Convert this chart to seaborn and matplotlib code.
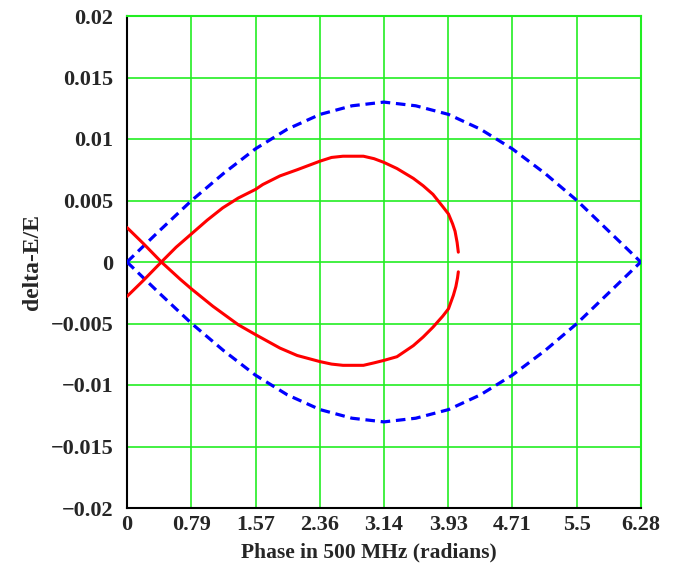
import numpy as np
import pandas as pd
import matplotlib
matplotlib.use("Agg")
import matplotlib.pyplot as plt
import seaborn as sns

# Separatrix (blue dashed)
sep_phase = [0, 0.39, 0.79, 1.18, 1.57, 1.96, 2.36, 2.75, 3.14, 3.53, 3.93, 4.32, 4.71, 5.11, 5.50, 5.89, 6.28]
sep_upper = [0, 0.0025, 0.0050, 0.0072, 0.0092, 0.0108, 0.0120, 0.0127, 0.0130, 0.0127, 0.0120, 0.0108, 0.0092, 0.0072, 0.0050, 0.0025, 0]
sep_lower = [-v for v in sep_upper]

# Trajectory (red), two branches
traj_up_phase = [0, 0.2, 0.42, 0.6, 0.79, 0.98, 1.17, 1.36, 1.57, 1.66, 1.87, 2.08, 2.36, 2.5, 2.64, 2.77, 2.89,
                 3.02, 3.14, 3.30, 3.50, 3.62, 3.74, 3.86, 3.93, 3.98, 4.01, 4.035, 4.05]
traj_up_de = [-0.0028, -0.0015, 0.0, 0.0012, 0.0023, 0.0034, 0.0044, 0.0052, 0.0059, 0.0063, 0.0070, 0.0075, 0.0082,
              0.0085, 0.0086, 0.0086, 0.0086, 0.0084, 0.0081, 0.0076, 0.0068, 0.0062, 0.0055, 0.0045, 0.0039, 0.0031,
              0.0025, 0.0016, 0.0008]
traj_lo_phase = [0, 0.2, 0.42, 0.65, 0.79, 1.05, 1.36, 1.57, 1.87, 2.08, 2.36, 2.5, 2.64, 2.77, 2.89,
                 3.02, 3.14, 3.30, 3.50, 3.62, 3.74, 3.86, 3.93, 3.99, 4.02, 4.04, 4.05]
traj_lo_de = [0.0028, 0.0015, 0.0, -0.0014, -0.0022, -0.0036, -0.0051, -0.0059, -0.0070, -0.0076, -0.0081,
              -0.0083, -0.0084, -0.0084, -0.0084, -0.0082, -0.0080, -0.0077, -0.0068, -0.0061, -0.0053, -0.0044,
              -0.0038, -0.0027, -0.0020, -0.0013, -0.0008]

xtick_vals = [0, 0.785, 1.571, 2.356, 3.142, 3.927, 4.712, 5.498, 6.283]
xtick_labels = ["0", "0.79", "1.57", "2.36", "3.14", "3.93", "4.71", "5.5", "6.28"]
ytick_vals = [-0.02, -0.015, -0.01, -0.005, 0, 0.005, 0.01, 0.015, 0.02]
ytick_labels = ["\u22120.02", "\u22120.015", "\u22120.01", "\u22120.005", "0", "0.005", "0.01", "0.015", "0.02"]

sns.set_theme(style="white")
plt.rcParams['font.family'] = ['Liberation Serif', 'DejaVu Serif']
plt.rcParams['font.weight'] = 'bold'

fig = plt.figure(figsize=(6.79, 5.68), dpi=100)
ax = fig.add_axes([127/679, 60/568, (641-127)/679, (508-16)/568])

green = "#22EE22"
for xv in xtick_vals:
    ax.axvline(xv, color=green, lw=1.2, zorder=0)
for yv in ytick_vals:
    ax.axhline(yv, color=green, lw=1.2, zorder=0)

df_sep_u = pd.DataFrame({"phase": sep_phase, "de": sep_upper})
df_sep_l = pd.DataFrame({"phase": sep_phase, "de": sep_lower})
df_tu = pd.DataFrame({"phase": traj_up_phase, "de": traj_up_de})
df_tl = pd.DataFrame({"phase": traj_lo_phase, "de": traj_lo_de})

for d in (df_sep_u, df_sep_l):
    sns.lineplot(data=d, x="phase", y="de", ax=ax, color="#0000FF", lw=2.3,
                 sort=False, estimator=None, linestyle=(0, (3.0, 1.8)), zorder=3)
for d in (df_tu, df_tl):
    sns.lineplot(data=d, x="phase", y="de", ax=ax, color="#FF0000", lw=2.2,
                 sort=False, estimator=None, zorder=4)

ax.set_xlim(0, 6.283)
ax.set_ylim(-0.02, 0.02)
ax.set_xticks(xtick_vals)
ax.set_xticklabels(xtick_labels)
ax.set_yticks(ytick_vals)
ax.set_yticklabels(ytick_labels)
ax.tick_params(axis="y", length=0, labelsize=16, pad=10)
ax.tick_params(axis="x", length=0, labelsize=16, pad=5)
for lab in ax.get_xticklabels() + ax.get_yticklabels():
    lab.set_fontweight("bold")

ax.set_xlabel("Phase in 500 MHz (radians)", fontsize=15.5, fontweight="bold")
ax.xaxis.set_label_coords((369 - 127) / 514, -(542 - 508) / 492, transform=ax.transAxes)
ax.set_ylabel("delta-E/E", fontsize=17, fontweight="bold")
ax.yaxis.set_label_coords(-(127 - 43) / 514, 0.5, transform=ax.transAxes)

for s in ("left", "bottom"):
    ax.spines[s].set_color("black")
    ax.spines[s].set_linewidth(1.5)
for s in ("top", "right"):
    ax.spines[s].set_color(green)
    ax.spines[s].set_linewidth(1.5)

fig.savefig("out.png", dpi=100)
